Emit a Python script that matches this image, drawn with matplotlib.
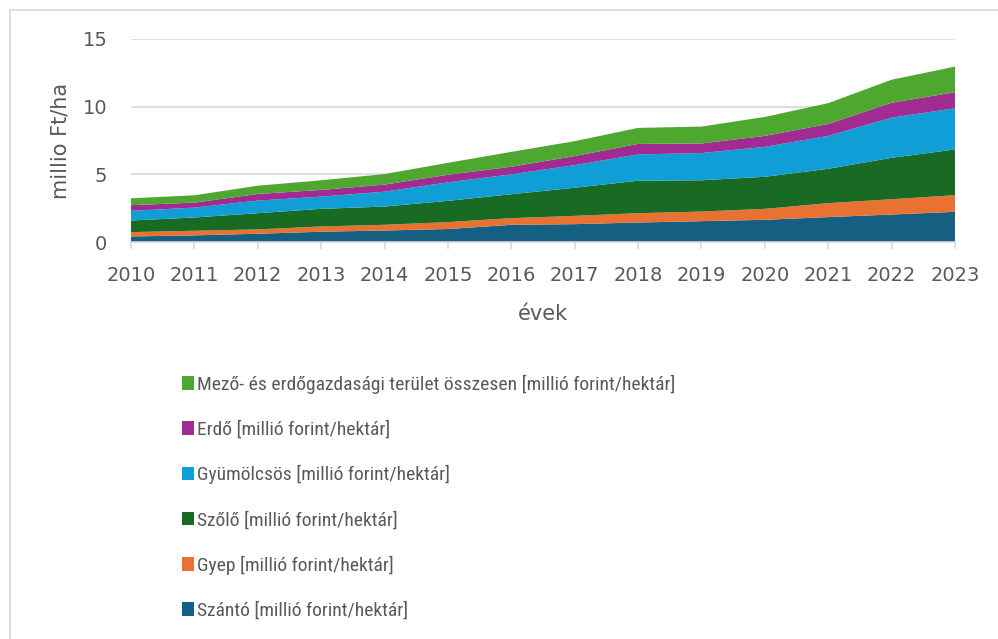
import matplotlib
matplotlib.use("Agg")
import matplotlib.pyplot as plt
from matplotlib.patches import Patch
from matplotlib.lines import Line2D

years = [2010, 2011, 2012, 2013, 2014, 2015, 2016, 2017, 2018, 2019, 2020, 2021, 2022, 2023]
szanto = [0.41, 0.49, 0.61, 0.76, 0.85, 0.96, 1.27, 1.32, 1.44, 1.54, 1.64, 1.84, 2.03, 2.23]
gyep = [0.32, 0.34, 0.32, 0.39, 0.42, 0.51, 0.49, 0.61, 0.69, 0.71, 0.81, 1.03, 1.13, 1.23]
szolo = [0.86, 0.98, 1.20, 1.30, 1.35, 1.57, 1.77, 2.08, 2.40, 2.31, 2.37, 2.54, 3.06, 3.38]
gyumolcsos = [0.71, 0.73, 0.93, 0.90, 1.10, 1.37, 1.47, 1.67, 1.94, 2.01, 2.21, 2.43, 2.97, 3.04]
erdo = [0.42, 0.37, 0.49, 0.50, 0.52, 0.56, 0.56, 0.67, 0.78, 0.71, 0.81, 0.88, 1.10, 1.19]
osszesen = [0.51, 0.54, 0.61, 0.71, 0.78, 0.88, 1.10, 1.10, 1.18, 1.25, 1.40, 1.54, 1.70, 1.89]

labels = [
    "Szántó [millió forint/hektár]",
    "Gyep [millió forint/hektár]",
    "Szőlő [millió forint/hektár]",
    "Gyümölcsös [millió forint/hektár]",
    "Erdő [millió forint/hektár]",
    "Mező- és erdőgazdasági terület összesen [millió forint/hektár]",
]
colors = ["#156082", "#E97132", "#196B24", "#0F9ED5", "#A02B93", "#4EA72E"]
yticks = [0, 5, 10, 15]

W, H = 998, 639
fig = plt.figure(figsize=(W / 100, H / 100), dpi=100)
fig.patch.set_facecolor("white")

ax = fig.add_axes([131 / W, 1 - 242 / H, (955 - 131) / W, (242 - 39) / H])
series = [szanto, gyep, szolo, gyumolcsos, erdo, osszesen]
ax.stackplot(years, *series, colors=colors, linewidth=0)

ax.set_xlim(years[0], years[-1])
ax.set_ylim(0, 15)
ax.set_yticks(yticks)
ax.set_xticks(years)
ax.set_xticklabels([str(y) for y in years])

grey = "#595959"
tickfont = ["DejaVu Sans"]
for s in ["top", "right", "left"]:
    ax.spines[s].set_visible(False)
ax.spines["bottom"].set_color("#d9d9d9")
ax.spines["bottom"].set_linewidth(1.2)
ax.spines["bottom"].set_zorder(5)
ax.yaxis.grid(True, color="#d9d9d9", linewidth=1.2)
ax.set_axisbelow(True)
ax.tick_params(axis="y", length=0, pad=17, labelsize=14, labelcolor=grey)
ax.tick_params(axis="x", length=5, width=1.2, color="#d9d9d9", pad=12, labelsize=14, labelcolor=grey)
for lab in ax.get_xticklabels() + ax.get_yticklabels():
    lab.set_family(tickfont)

ax.set_ylabel("millio Ft/ha", fontsize=15, color=grey, family=tickfont, labelpad=9)
ax.set_xlabel("évek", fontsize=15, color=grey, family=tickfont, labelpad=14)

handles = [Patch(facecolor=c, edgecolor="none") for c in colors][::-1]
leg = fig.legend(handles, labels[::-1], loc="upper left",
                 bbox_to_anchor=(182 / W, 1 - 375 / H),
                 frameon=False,
                 prop={"family": ["Roboto Condensed", "DejaVu Sans"], "size": 14},
                 handlelength=0.6, handleheight=0.7, handletextpad=0.15,
                 labelspacing=1.36, borderaxespad=0, borderpad=0)
for t in leg.get_texts():
    t.set_color(grey)

# chart border (top and left visible in crop)
fig.add_artist(Line2D([10 / W, 10 / W], [0, 1 - 10 / H], color="#d9d9d9", linewidth=1.2, transform=fig.transFigure))
fig.add_artist(Line2D([10 / W, 1], [1 - 10 / H, 1 - 10 / H], color="#d9d9d9", linewidth=1.2, transform=fig.transFigure))

fig.savefig("out.png", dpi=100, facecolor="white")
